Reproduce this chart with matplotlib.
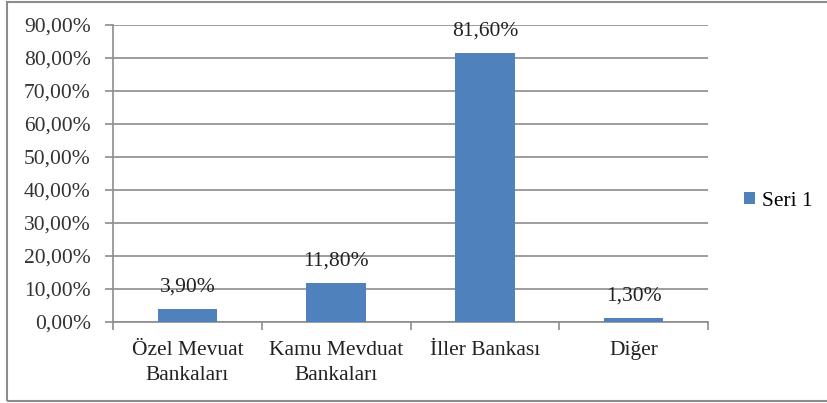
import matplotlib.pyplot as plt
from matplotlib.patches import Rectangle

categories = ["Özel Mevuat\nBankaları", "Kamu Mevduat\nBankaları", "İller Bankası", "Diğer"]
values = [3.90, 11.80, 81.60, 1.30]
series_name = "Seri 1"
y_ticks = [0, 10, 20, 30, 40, 50, 60, 70, 80, 90]

plt.rcParams["font.family"] = ["Liberation Serif", "DejaVu Serif"]
fs = 15.5

fig = plt.figure(figsize=(8.27, 4.03), dpi=100)
ax = fig.add_axes([113 / 827, 1 - 322 / 403, 595 / 827, 297 / 403])

bar_color = "#4F81BD"
x = range(len(categories))
bars = ax.bar(x, values, width=0.4, color=bar_color, label=series_name, zorder=3)

for xi, v in zip(x, values):
    ax.annotate(f"{v:.2f}%".replace(".", ","), (xi, v), xytext=(0, 9),
                textcoords="offset points", ha="center", va="bottom",
                fontsize=fs, color="#222222")

ax.set_xlim(-0.5, len(categories) - 0.5)
ax.set_ylim(0, 90)
ax.set_yticks(y_ticks)
ax.set_yticklabels([f"{t:.2f}%".replace(".", ",") for t in y_ticks], fontsize=fs, color="#333333")
ax.yaxis.grid(True, color="#8c8c8c", linewidth=1.2, zorder=0)
ax.tick_params(axis="y", length=6, width=1.2, color="#8c8c8c", pad=10)

# category ticks sit on the boundaries, labels in the middle
ax.set_xticks([i - 0.5 for i in range(len(categories) + 1)])
ax.set_xticklabels([])
ax.set_xticks(list(x), minor=True)
ax.set_xticklabels(categories, minor=True, fontsize=fs, color="#222222", linespacing=1.4)
ax.tick_params(axis="x", which="major", length=6, width=1.2, color="#8c8c8c")
ax.tick_params(axis="x", which="minor", length=0, pad=14)

for s in ["top", "right"]:
    ax.spines[s].set_visible(False)
for s in ["left", "bottom"]:
    ax.spines[s].set_color("#8c8c8c")
    ax.spines[s].set_linewidth(1.2)

ax.legend(loc="center left", bbox_to_anchor=(725 / 827, 0.5), bbox_transform=fig.transFigure,
          frameon=False, fontsize=fs, handlelength=0.5, handleheight=0.5, handletextpad=0.3)

fig.patches.append(Rectangle((7 / 827, 2 / 403), 830 / 827, 399 / 403,
                             transform=fig.transFigure, fill=False,
                             edgecolor="#8c8c8c", linewidth=1.5))

fig.savefig("out.png", dpi=100)
